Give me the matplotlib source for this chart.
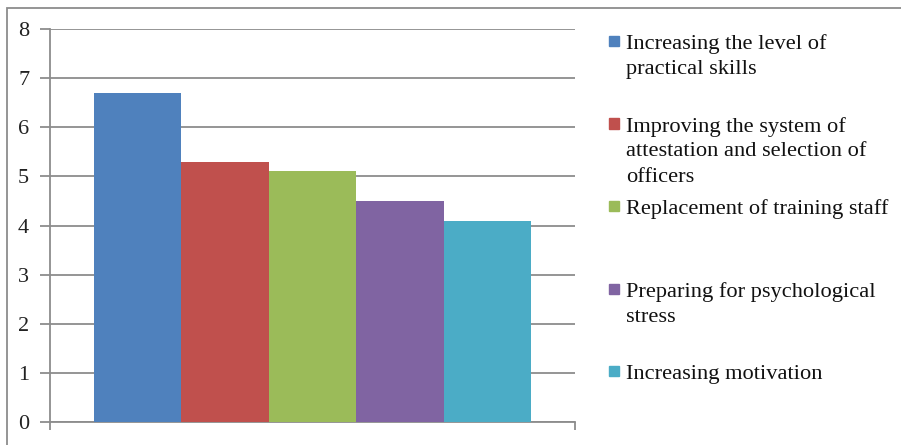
import matplotlib.pyplot as plt
from matplotlib.patches import Rectangle

# values
labels = ['Increasing the level of\npractical skills',
          'Improving the system of\nattestation and selection of\nofficers',
          'Replacement of training staff',
          'Preparing for psychological\nstress',
          'Increasing motivation']
values = [6.7, 5.3, 5.1, 4.5, 4.1]
colors = ['#4F81BD', '#C0504D', '#9BBB59', '#8064A2', '#4BACC6']
yticks = [0, 1, 2, 3, 4, 5, 6, 7, 8]

W, H = 901, 445
plt.rcParams['font.family'] = ['Liberation Serif', 'DejaVu Serif']

fig = plt.figure(figsize=(W / 100, H / 100), dpi=100)
ax = fig.add_axes([50 / W, 1 - 422 / H, 525 / W, 393 / H])

x = list(range(len(values)))
ax.bar(x, values, width=1.0, color=colors, zorder=3)

ax.set_xlim(-1, len(values))
ax.set_ylim(0, 8)
ax.set_yticks(yticks)
ax.set_xticks([-1, len(values)])
ax.set_xticklabels([])
ax.grid(axis='y', color='#8c8c8c', linewidth=1.3, zorder=0)
for s in ['top', 'right']:
    ax.spines[s].set_visible(False)
for s in ['left', 'bottom']:
    ax.spines[s].set_color('#8c8c8c')
    ax.spines[s].set_linewidth(1.3)
ax.tick_params(axis='y', length=7, width=1.3, color='#8c8c8c', pad=8,
               labelsize=16, labelcolor='#222222')
ax.tick_params(axis='x', length=6, width=1.3, color='#8c8c8c')

# legend drawn as text blocks, one slot per entry
for i, (lab, c) in enumerate(zip(labels, colors)):
    yb = 49 + i * 82.5
    fig.patches.append(Rectangle((609 / W, 1 - (yb - 3) / H), 10 / W, 10 / H,
                                 transform=fig.transFigure, color=c))
    for j, line in enumerate(lab.split('\n')):
        fig.text(626 / W, 1 - (yb + j * 25) / H, line, fontsize=16.1,
                 va='baseline', ha='left', color='#111111')

# outer frame (only left and top visible in the crop)
fig.patches.append(Rectangle((7 / W, -0.1), 1.2, 1.1 - 8 / H,
                             transform=fig.transFigure, fill=False,
                             edgecolor='#8c8c8c', linewidth=1.3))

fig.savefig('out.png', dpi=100)
